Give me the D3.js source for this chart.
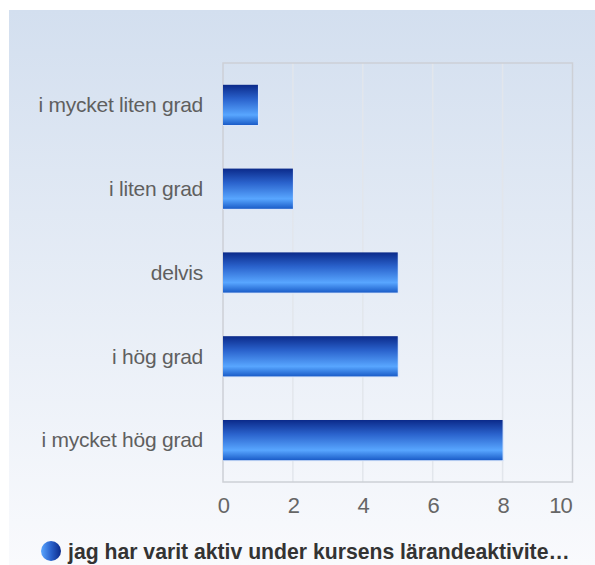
<!DOCTYPE html>
<html><head><meta charset="utf-8">
<script src="https://cdn.jsdelivr.net/npm/d3@7"></script>
<style>body{margin:0;background:#fff}svg{display:block}</style>
</head><body>
<svg id="c" width="595" height="565"></svg>
<script>
const categories = ["i mycket liten grad","i liten grad","delvis","i hög grad","i mycket hög grad"];
const values = [1,2,5,5,8];
const xTicks = [0,2,4,6,8,10];
const seriesName = "jag har varit aktiv under kursens lärandeaktivite…";

const svg = d3.select("#c");
const defs = svg.append("defs");
const bg = defs.append("linearGradient").attr("id","bg").attr("x1",0).attr("y1",0).attr("x2",0).attr("y2",1);
bg.append("stop").attr("offset","0%").attr("stop-color","#d3dfef");
bg.append("stop").attr("offset","100%").attr("stop-color","#f9fafd");
const bar = defs.append("linearGradient").attr("id","bar").attr("x1",0).attr("y1",0).attr("x2",0).attr("y2",1);
bar.append("stop").attr("offset","0%").attr("stop-color","#0b2a8a");
bar.append("stop").attr("offset","35%").attr("stop-color","#2a62cc");
bar.append("stop").attr("offset","75%").attr("stop-color","#58a6ff");
bar.append("stop").attr("offset","100%").attr("stop-color","#1a5cc8");
const leg = defs.append("linearGradient").attr("id","leg").attr("x1",0).attr("y1",0).attr("x2",1).attr("y2",0);
leg.append("stop").attr("offset","0%").attr("stop-color","#5aa6ff");
leg.append("stop").attr("offset","50%").attr("stop-color","#2a62cc");
leg.append("stop").attr("offset","100%").attr("stop-color","#0b2a8a");

svg.append("rect").attr("x",9).attr("y",10).attr("width",586).attr("height",555).attr("fill","url(#bg)");

const L=223,R=572.5,T=63,B=482;
const FONT = "Liberation Sans, Arial, sans-serif";
const x = d3.scaleLinear().domain([0,10]).range([L,R]);
const y = d3.scaleBand().domain(categories).range([T,B]).paddingInner(0.52).paddingOuter(0.26);

// gridlines
svg.append("g").selectAll("line").data(xTicks.slice(1,-1)).join("line")
  .attr("x1",d=>x(d)).attr("x2",d=>x(d)).attr("y1",T).attr("y2",B)
  .attr("stroke","#e2e6ec").attr("stroke-width",1.5);
svg.append("rect").attr("x",L).attr("y",T).attr("width",R-L).attr("height",B-T)
  .attr("fill","none").attr("stroke","#cdd0d6").attr("stroke-width",1.5);

// bars
const bw = y.bandwidth();
const g = svg.append("g");
g.selectAll("rect.shadow").data(values).join("rect")
  .attr("x",x(0)).attr("y",(d,i)=>y(categories[i])+1)
  .attr("width",d=>x(d)-x(0)+1.5).attr("height",bw)
  .attr("fill","#dbe7fb");
g.selectAll("rect.b").data(values).join("rect")
  .attr("x",x(0)).attr("y",(d,i)=>y(categories[i]))
  .attr("width",d=>x(d)-x(0)).attr("height",bw)
  .attr("fill","url(#bar)");

// y labels
svg.append("g").selectAll("text").data(categories).join("text")
  .attr("x",203).attr("y",d=>y(d)+y.bandwidth()/2).attr("dy","0.35em")
  .attr("text-anchor","end").attr("font-family",FONT)
  .attr("font-size",21).attr("fill","#5f5f5f").attr("letter-spacing",-0.25).text(d=>d);

// x axis labels
const xa = svg.append("g").attr("transform",`translate(0,${B+23})`)
  .call(d3.axisBottom(x).tickValues(xTicks).tickSize(0).tickPadding(0));
xa.select(".domain").remove();
xa.selectAll("text").attr("font-family",FONT)
  .attr("font-size",22).attr("fill","#666").attr("dy","0.35em").attr("letter-spacing",-0.8)
  .attr("text-anchor",d=>d===xTicks[xTicks.length-1]?"end":"middle")
  .attr("dx",d=>d===xTicks[xTicks.length-1]?-1:0);

// legend
svg.append("circle").attr("cx",51).attr("cy",551).attr("r",10).attr("fill","url(#leg)");
svg.append("text").attr("x",68).attr("y",552).attr("dy","0.35em")
  .attr("font-family",FONT).attr("font-weight","bold")
  .attr("font-size",21.2).attr("fill","#333").text(seriesName);
</script>
</body></html>
